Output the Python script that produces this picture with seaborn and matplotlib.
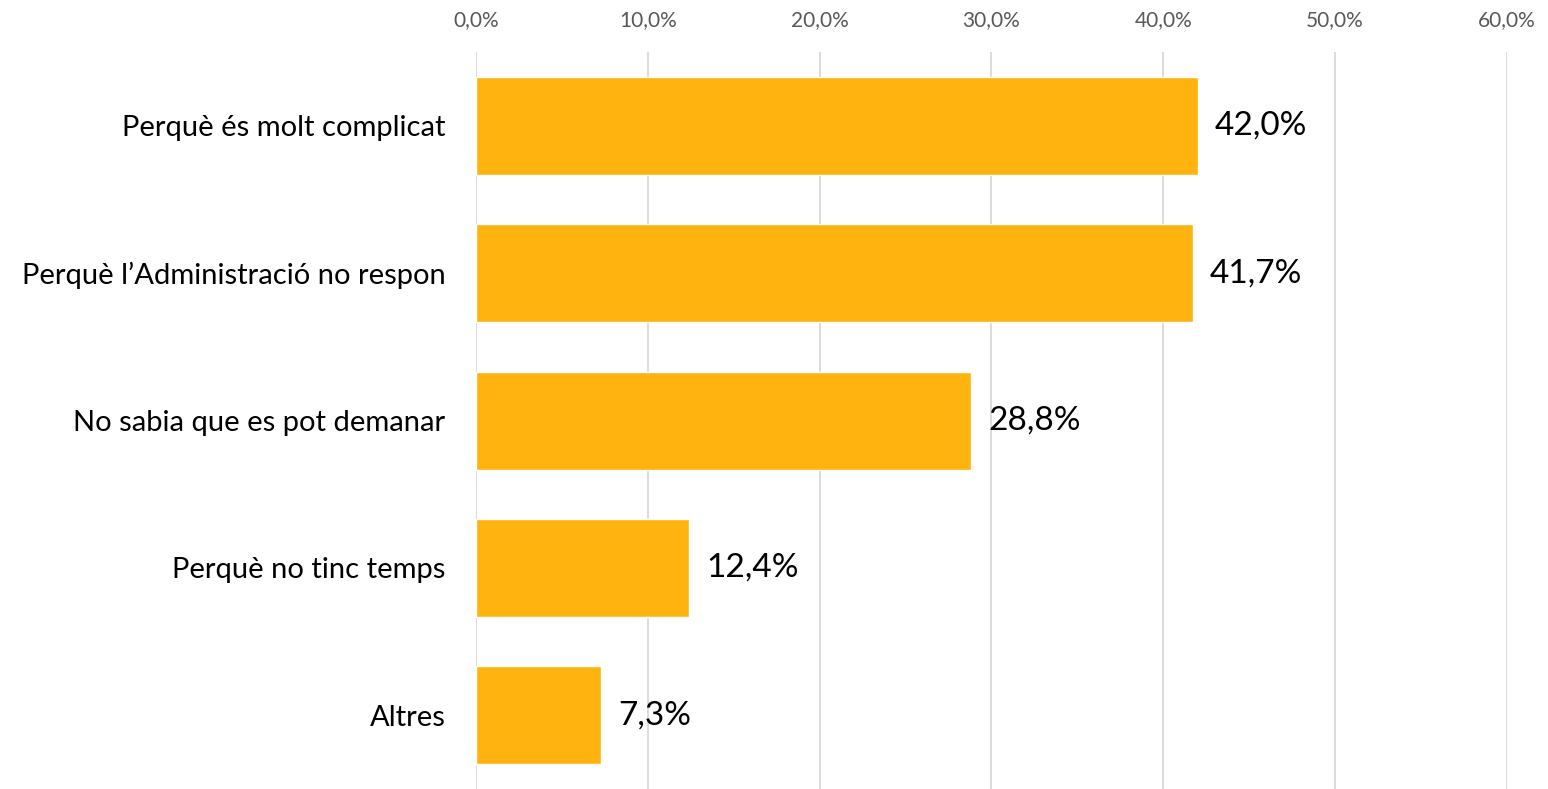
import matplotlib
matplotlib.use("Agg")
import matplotlib.pyplot as plt
import seaborn as sns
import pandas as pd
from matplotlib.ticker import FuncFormatter

# Dades
categories = [
    "Perquè és molt complicat",
    "Perquè l’Administració no respon",
    "No sabia que es pot demanar",
    "Perquè no tinc temps",
    "Altres",
]
valors = [42.0, 41.7, 28.8, 12.4, 7.3]

df = pd.DataFrame({"motiu": categories, "pct": valors})

sns.set_style("white")
plt.rcParams["font.family"] = ["Lato", "DejaVu Sans"]

fig = plt.figure(figsize=(15.48, 7.89), dpi=100)
ax = fig.add_axes([0.3075, 0.0, 0.666, 0.934])

sns.barplot(data=df, x="pct", y="motiu", color="#FFB30F", width=0.665,
            saturation=1, ax=ax, zorder=3)

ax.set_xlim(0, 60)
ax.set_xticks(range(0, 61, 10))
ax.xaxis.set_major_formatter(FuncFormatter(lambda v, p: f"{v:.1f}%".replace(".", ",")))
ax.xaxis.tick_top()
ax.tick_params(axis="x", length=0, pad=16, labelsize=15, labelcolor="#595959")
ax.tick_params(axis="y", length=0, pad=22, labelsize=21, labelcolor="#000000")
ax.grid(axis="x", color="#D9D9D9", linewidth=1.3, zorder=0)
ax.set_xlabel("")
ax.set_ylabel("")
for s in ax.spines.values():
    s.set_visible(False)

# Etiquetes de valor
for i, v in enumerate(valors):
    ax.text(v + 1.0, i, f"{v:.1f}%".replace(".", ","), va="center", ha="left",
            fontsize=24, color="#000000")

fig.savefig("out.png", dpi=100)
